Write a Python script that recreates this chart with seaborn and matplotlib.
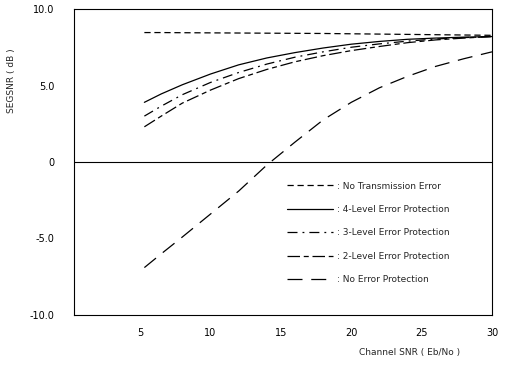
import matplotlib
matplotlib.use("Agg")
import matplotlib.pyplot as plt
import seaborn as sns

# channel SNR (Eb/No) points
snr = [5.3, 6.5, 8, 10, 12, 14, 16, 18, 20, 22, 24, 26, 28, 30]

no_tx_error = [8.46, 8.46, 8.45, 8.44, 8.43, 8.42, 8.41, 8.40, 8.38, 8.36, 8.34, 8.32, 8.30, 8.28]
level4 = [3.9, 4.45, 5.05, 5.75, 6.35, 6.8, 7.15, 7.45, 7.7, 7.88, 8.02, 8.1, 8.16, 8.2]
level3 = [3.0, 3.65, 4.4, 5.2, 5.85, 6.4, 6.85, 7.2, 7.5, 7.72, 7.9, 8.04, 8.13, 8.2]
level2 = [2.3, 3.0, 3.85, 4.7, 5.45, 6.05, 6.55, 6.95, 7.28, 7.55, 7.8, 7.98, 8.1, 8.2]
no_protection = [-6.9, -6.0, -4.9, -3.4, -1.9, -0.2, 1.3, 2.75, 3.9, 4.85, 5.6, 6.25, 6.75, 7.2]

labels = [": No Transmission Error", ": 4-Level Error Protection",
          ": 3-Level Error Protection", ": 2-Level Error Protection",
          ": No Error Protection"]

xticks = [5, 10, 15, 20, 25, 30]
yticks = [-10, -5, 0, 5, 10]
ytick_labels = ["-10.0", "-5.0", "0", "5.0", "10.0"]


def main():
    sns.set_style("white")
    plt.rcParams['font.family'] = ['DejaVu Sans']

    fig = plt.figure(figsize=(5.05, 3.72), dpi=100)
    ax = fig.add_axes([74 / 505, 1 - 315 / 372, 418 / 505, 306 / 372])

    series = [no_tx_error, level4, level3, level2, no_protection]
    styles = [(0, (5, 3)), '-', (0, (8, 4, 1.5, 4)), (0, (10, 3, 4, 3)), (0, (12, 7))]
    for ys, lab, ls in zip(series, labels, styles):
        sns.lineplot(x=snr, y=ys, ax=ax, color='k', linewidth=0.9,
                     linestyle=ls, label=lab)

    ax.axhline(0, color='k', linewidth=0.8)

    ax.set_xlim(0.3, 30)
    ax.set_ylim(-10, 10)
    ax.set_xticks(xticks)
    ax.set_yticks(yticks)
    ax.set_yticklabels(ytick_labels)
    ax.tick_params(axis='both', direction='inout', length=4, width=0.8,
                   labelsize=7, colors='k', pad=12)
    ax.tick_params(axis='x', pad=7)
    for sp in ax.spines.values():
        sp.set_color('k')
        sp.set_linewidth(0.8)

    ax.legend(loc='upper left', bbox_to_anchor=(0.51, 0.436), frameon=False,
              fontsize=6.5, handlelength=5.1, handletextpad=0.4,
              labelspacing=1.6, borderpad=0, borderaxespad=0)

    fig.text(12 / 505, 1 - 81 / 372, "SEGSNR ( dB )", rotation=90,
             ha='center', va='center', fontsize=6.5)
    fig.text(410 / 505, 1 - 352 / 372, "Channel SNR ( Eb/No )",
             ha='center', va='center', fontsize=6.5)

    fig.savefig("out.png", dpi=100)


if __name__ == '__main__':
    main()
